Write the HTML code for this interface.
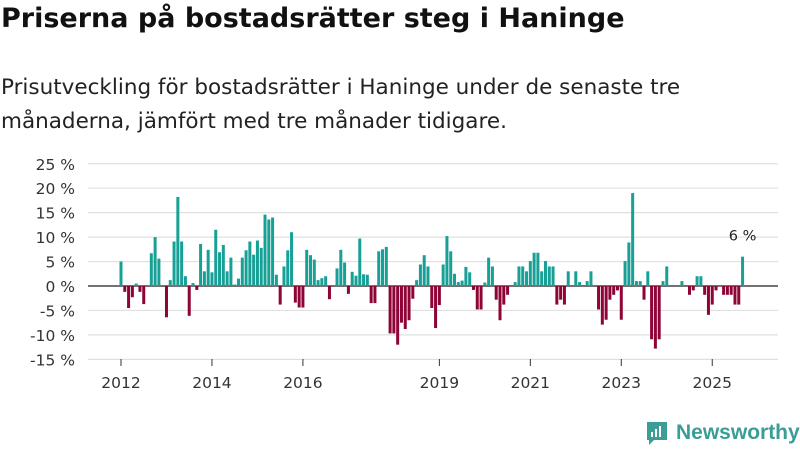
<!DOCTYPE html>
<html><head><meta charset="utf-8"><style>
body{margin:0;width:800px;height:450px;background:#fff;font-family:"DejaVu Sans","Liberation Sans",sans-serif;overflow:hidden;position:relative}
#title{position:absolute;left:1px;top:3px;font-size:27px;font-weight:bold;color:#111;margin:0;white-space:nowrap}
#sub{position:absolute;left:1px;top:71px;font-size:21.5px;line-height:34px;color:#222;width:720px}
svg{position:absolute;left:0;top:0}
#logo{position:absolute;left:645px;top:420px;display:flex;align-items:center;gap:7px;color:#3a9e96;font-size:21px;font-weight:bold;font-family:"Liberation Sans",sans-serif;white-space:nowrap}
</style></head><body>
<h1 id="title">Priserna på bostadsrätter steg i Haninge</h1>
<div id="sub">Prisutveckling för bostadsrätter i Haninge under de senaste tre månaderna, jämfört med tre månader tidigare.</div>
<svg id="chart" width="800" height="450"></svg>
<div id="logo"><svg width="24" height="26" viewBox="0 0 24 26" style="position:static"><path d="M2 2h20v18H9l-5 5v-5H2z" fill="#3a9e96"/><rect x="6" y="12" width="2" height="5" fill="#fff"/><rect x="10" y="9" width="2" height="8" fill="#fff"/><rect x="14" y="6" width="2" height="11" fill="#fff"/></svg><span>Newsworthy</span></div>
<script>
const values=[5,-1.2,-4.5,-2.3,0.5,-1.2,-3.7,0,6.7,10,5.6,0,-6.4,1.2,9.1,18.2,9.1,2,-6.1,0.6,-0.8,8.6,3,7.4,2.8,11.5,6.9,8.4,3,5.8,0.3,1.5,5.8,7.3,9.1,6.4,9.3,7.8,14.6,13.6,14,2.3,-3.8,4,7.3,11,-3.4,-4.4,-4.4,7.4,6.3,5.4,1.2,1.6,2,-2.7,
0,3.6,7.4,4.8,-1.6,2.9,2.1,9.7,2.4,2.3,-3.5,-3.5,7.1,7.5,8,-9.7,-9.7,-12,-7.5,-8.8,-7,-2.6,1.2,4.4,6.3,4,-4.5,-8.6,-3.9,4.4,10.2,7.1,2.5,0.8,1.1,3.9,2.8,-0.8,-4.8,-4.8,0.7,5.8,4,-2.8,-7,-3.8,-1.8,0,0.8,4,4,3,5.1,6.8,6.8,
3,5.1,4,4,-3.8,-2.8,-3.8,3,0,3,0.8,0,1,3,0,-4.8,-7.9,-6.9,-2.8,-1.8,-0.9,-6.9,5.1,8.9,19,1,1,-2.8,3,-10.9,-12.8,-10.9,1,4,0,0,0,1,0,-1.8,-0.9,2,2,-1.8,-5.9,-3.8,-0.9,0,-1.8,-1.8,-1.8,-3.8,-3.8,6];
const yTicks=[25,20,15,10,5,0,-5,-10,-15];
const yearLabels=["2012","2014","2016","2019","2021","2023","2025"];
const yearIdx=[0,24,48,84,108,132,156];
const NS="http://www.w3.org/2000/svg",svg=document.getElementById('chart');
const x=i=>121+i*3.79, y=v=>286-v*4.89;
function mk(t,a){const e=document.createElementNS(NS,t);for(const k in a)e.setAttribute(k,a[k]);svg.appendChild(e);return e;}
yTicks.forEach(t=>{
 const g=mk('line',{x1:88,x2:778,y1:y(t),y2:y(t),stroke:t===0?'#444':'#e0e0e0','stroke-width':t===0?1.5:1.2});
 
 
 const l=mk('text',{x:75,y:y(t)+6,'text-anchor':'end','font-size':15.5,fill:'#333'});
 l.textContent=t+' %';
 
 
});
values.forEach((v,i)=>{
 const r=mk('rect',{x:x(i)-1.5,width:3,y:Math.min(y(v),y(0)),height:Math.abs(y(v)-y(0)),fill:v>=0?'#17a096':'#8f0437'});
 
 
});
yearLabels.forEach((t,j)=>{
 const tk=mk('line',{x1:x(yearIdx[j]),x2:x(yearIdx[j]),y1:359,y2:366,stroke:'#333','stroke-width':1});
 
 
 const l=mk('text',{x:x(yearIdx[j]),y:388,'text-anchor':'middle','font-size':15.5,fill:'#333'});
 l.textContent=t;
 
 
});
const last=values.length-1;
const a=mk('text',{x:x(last),y:y(values[last])-16,'text-anchor':'middle','font-size':14.5,fill:'#222'});
a.textContent=Math.round(values[last])+' %';


</script>
</body></html>
